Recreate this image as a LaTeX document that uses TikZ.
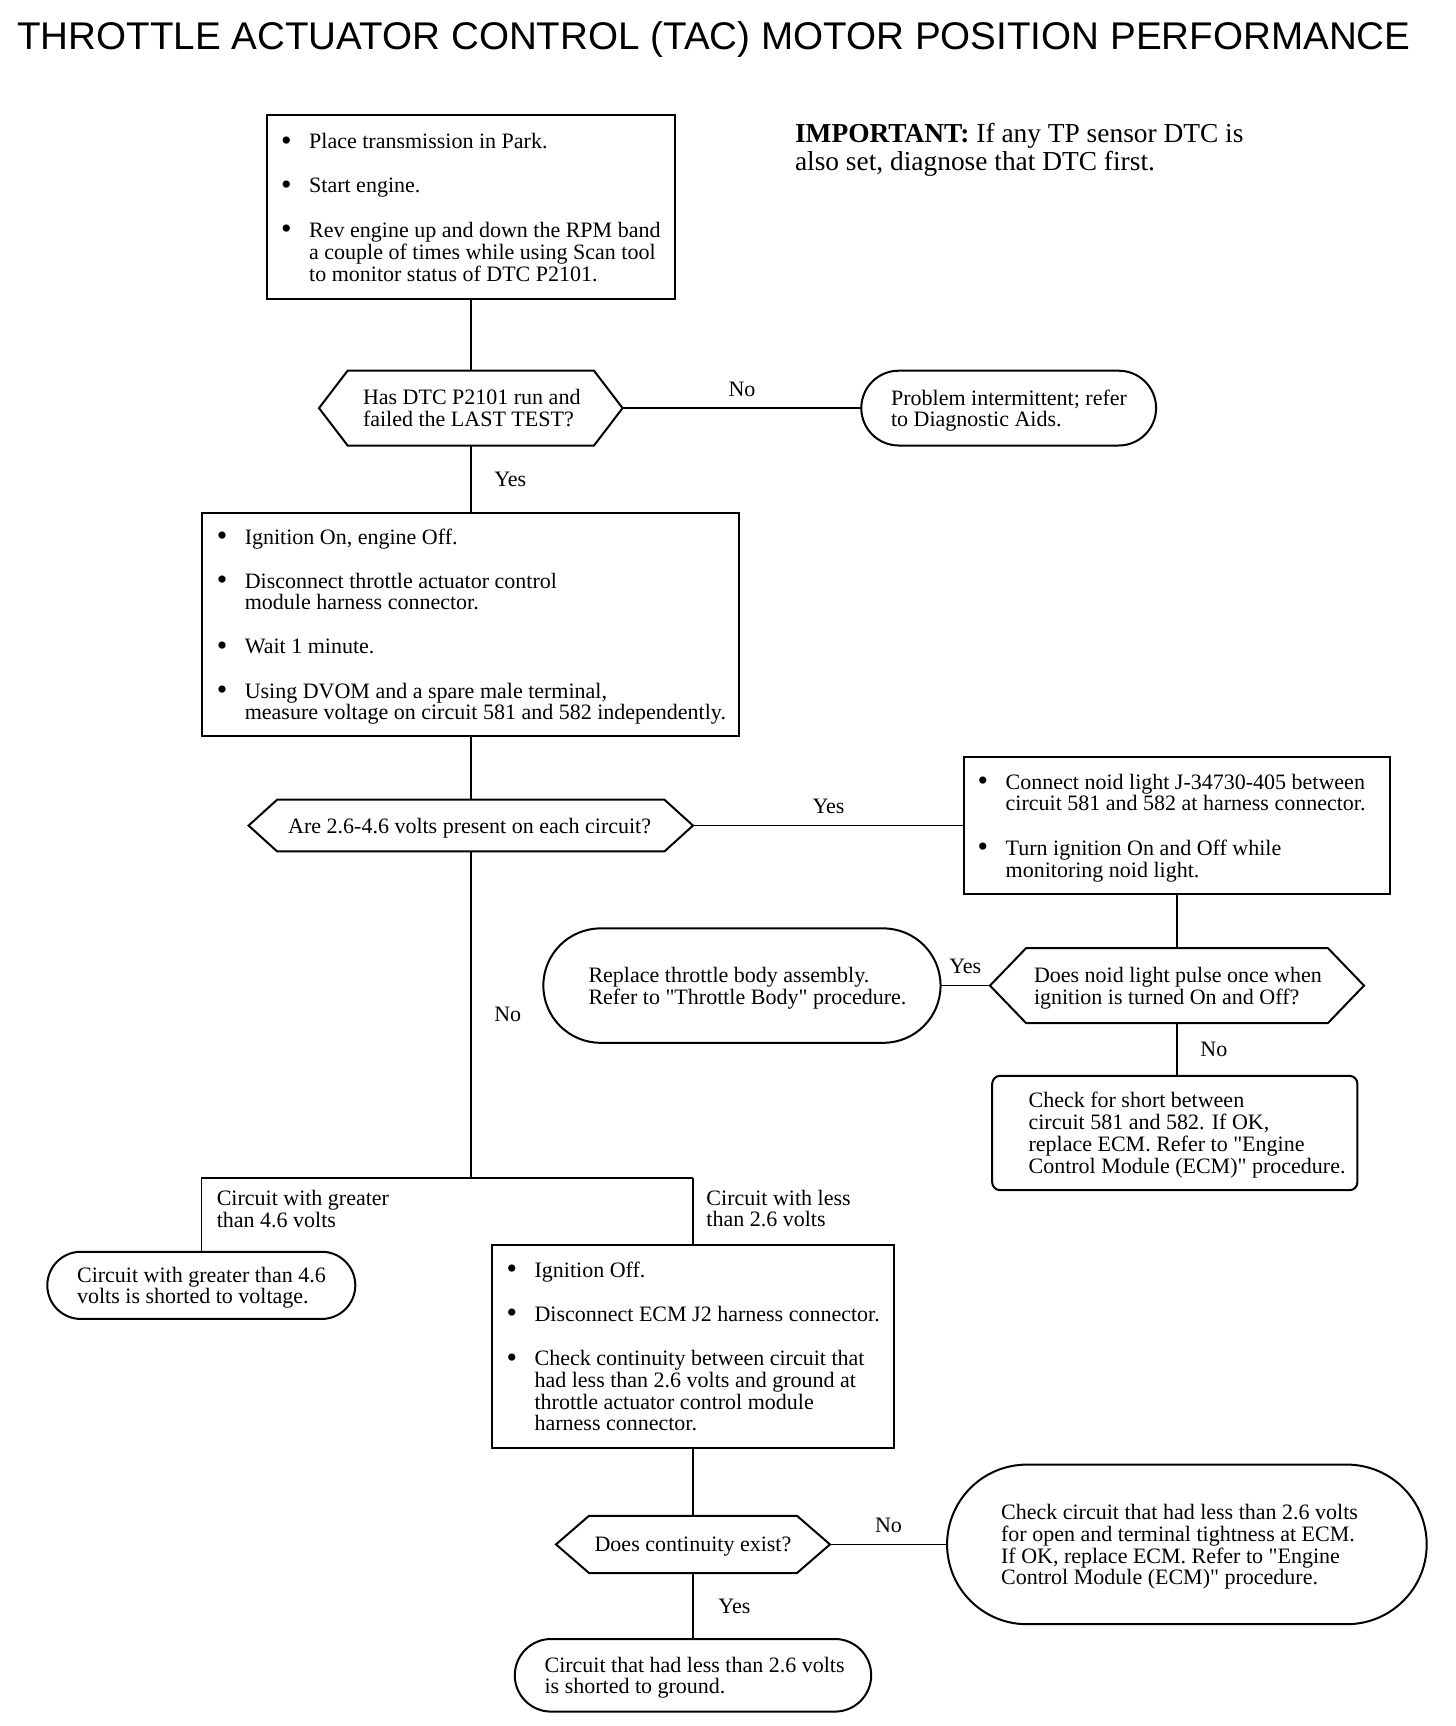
\documentclass[tikz,border=0pt]{standalone}
\usepackage{fontspec}
\setmainfont{Liberation Serif}
\newfontfamily\titlefont{Liberation Sans}
\usetikzlibrary{positioning}

% text block: width, left offset, lines
\newcommand{\flowtext}[3]{\makebox[#1][l]{\hspace*{#2}\raisebox{-1.6pt}[\height][\depth]{\begin{tabular}{@{}l@{}}#3\end{tabular}}}}
% bullet block: width, left offset, rows
\newcommand{\flowlist}[3]{\makebox[#1][l]{\hspace*{#2}\raisebox{-1.6pt}[\height][\depth]{\begin{tabular}{@{}p{14pt}@{}l@{}}#3\end{tabular}}}}
\newcommand{\blt}{{\fontsize{15}{10}\selectfont\raisebox{-0.6pt}{\textbullet}}}
\newcommand{\qq}{\textquotedbl}

\tikzset{
  stepbox/.style={draw, line width=1pt, inner sep=0pt, outer sep=0pt, minimum height=#1},
  endbox/.style={draw, line width=1pt, inner sep=0pt, outer sep=0pt, minimum height=#1, rounded corners=0.5*#1},
  askbox/.style={inner sep=0pt, outer sep=0pt, minimum height=#1},
  answer/.style={inner sep=3.33pt}
}

\begin{document}
\begin{tikzpicture}[x=0.55pt, y=-0.55pt, line width=0.8pt, font=\fontsize{11}{10.7}\selectfont]
  \fill[white] (0,0) rectangle (1323.6,1569.1);
  \useasboundingbox (0,0) rectangle (1323.6,1569.1);

  % Title and note
  \node[anchor=base, inner sep=0pt, font=\titlefont\fontsize{19.3}{19.3}\selectfont] (title) at (649,45)
    {THROTTLE ACTUATOR CONTROL (TAC) MOTOR POSITION PERFORMANCE};
  \node[anchor=west, align=left, inner sep=0pt, font=\fontsize{13.7}{13.75}\selectfont] (note) at (722,136)
    {\textbf{IMPORTANT:} If any TP sensor DTC is\\also set, diagnose that DTC first.};

  % Nodes
  \node[stepbox=91.9pt] (start) at (428,188.5) {\flowlist{204pt}{7.2pt}{
    \blt & Place transmission in Park.\\[11.3pt]
    \blt & Start engine.\\[11.3pt]
    \blt & Rev engine up and down the RPM band\\
      & a couple of times while using Scan tool\\
      & to monitor status of DTC P2101.}};
  \node[askbox=37.4pt] (hasrun) at (428,371) {\flowtext{151.8pt}{22pt}{Has DTC P2101 run and\\failed the LAST TEST?}};
  \node[endbox=37.4pt] (intermit) at (917,371) {\flowtext{147.4pt}{14.9pt}{Problem intermittent; refer\\to Diagnostic Aids.}};
  \node[stepbox=111.7pt] (measure) at (428,567.5) {\flowlist{268.4pt}{7.2pt}{
    \blt & Ignition On, engine Off.\\[11.3pt]
    \blt & Disconnect throttle actuator control\\
      & module harness connector.\\[11.3pt]
    \blt & Wait 1 minute.\\[11.3pt]
    \blt & Using DVOM and a spare male terminal,\\
      & measure voltage on circuit 581 and 582 independently.}};
  \node[askbox=25.9pt] (volts) at (428,750.5) {\flowtext{222.2pt}{19.8pt}{Are 2.6-4.6 volts present on each circuit?}};
  \node[stepbox=68.8pt] (noid) at (1070,750.5) {\flowlist{212.9pt}{6.8pt}{
    \blt & Connect noid light J-34730-405 between\\
      & circuit 581 and 582 at harness connector.\\[11.3pt]
    \blt & Turn ignition On and Off while\\
      & monitoring noid light.}};
  \node[askbox=37.4pt] (pulse) at (1070,896) {\flowtext{187pt}{22pt}{Does noid light pulse once when\\ignition is turned On and Off?}};
  \node[endbox=57.2pt] (replace) at (674.5,896) {\flowtext{198.6pt}{22.6pt}{Replace throttle body assembly.\\Refer to \qq Throttle Body\qq{} procedure.}};
  \node[stepbox=57.2pt, rounded corners=4pt] (shortchk) at (1068,1030) {\flowtext{182.6pt}{18.2pt}{Check for short between\\circuit 581 and 582. If OK,\\replace ECM. Refer to \qq Engine\\Control Module (ECM)\qq{} procedure.}};
  \coordinate (split) at (428,1071);
  \coordinate (splitL) at (183,1071);
  \coordinate (splitR) at (630,1071);
  \node[endbox=33.6pt] (greater) at (183,1168.5) {\flowtext{154pt}{14.9pt}{Circuit with greater than 4.6\\volts is shorted to voltage.}};
  \node[stepbox=101.2pt] (ecmoff) at (630,1224) {\flowlist{200.8pt}{7.2pt}{
    \blt & Ignition Off.\\[11.3pt]
    \blt & Disconnect ECM J2 harness connector.\\[11.3pt]
    \blt & Check continuity between circuit that\\
      & had less than 2.6 volts and ground at\\
      & throttle actuator control module\\
      & harness connector.}};
  \node[askbox=28.6pt] (cont) at (630,1404) {\flowtext{137pt}{19.3pt}{Does continuity exist?}};
  \node[endbox=79.8pt] (opencheck) at (1079,1404) {\flowtext{239.8pt}{27pt}{Check circuit that had less than 2.6 volts\\for open and terminal tightness at ECM.\\If OK, replace ECM. Refer to \qq Engine\\Control Module (ECM)\qq{} procedure.}};
  \node[endbox=36.3pt] (ground) at (630,1523) {\flowtext{178.2pt}{14.9pt}{Circuit that had less than 2.6 volts\\is shorted to ground.}};

  % Decision outlines
  \foreach \h/\d in {hasrun/14.3pt, volts/14.3pt, pulse/18pt, cont/16.5pt}
    \draw[line width=1pt] ([xshift=\d]\h.north west) -- ([xshift=-\d]\h.north east) -- (\h.east)
      -- ([xshift=-\d]\h.south east) -- ([xshift=\d]\h.south west) -- (\h.west) -- cycle;

  % Connectors
  \draw (start) -- (hasrun);
  \draw (hasrun) -- node[answer, above=2pt] {No} (intermit);
  \draw (hasrun) -- node[answer, right=8pt] {Yes} (measure);
  \draw (measure) -- (volts);
  \draw (volts) -- node[answer, above=2pt] {Yes} (noid);
  \draw (noid) -- (pulse);
  \draw (pulse) -- node[answer, above=2pt] {Yes} (replace);
  \draw (pulse) -- node[answer, right=8pt] {No} (pulse |- shortchk.north);
  \draw (volts) -- node[answer, right=8pt] {No} (split);
  \draw (splitL) -- (splitR);
  \draw (splitL) -- node[pos=0.42, right=4pt, align=left] {Circuit with greater\\than 4.6 volts} (greater);
  \draw (splitR) -- node[pos=0.45, right=3pt, align=left] {Circuit with less\\than 2.6 volts} (ecmoff);
  \draw (ecmoff) -- (cont);
  \draw (cont) -- node[answer, above=2pt] {No} (opencheck);
  \draw (cont) -- node[answer, right=9pt] {Yes} (ground);
\end{tikzpicture}
\end{document}
